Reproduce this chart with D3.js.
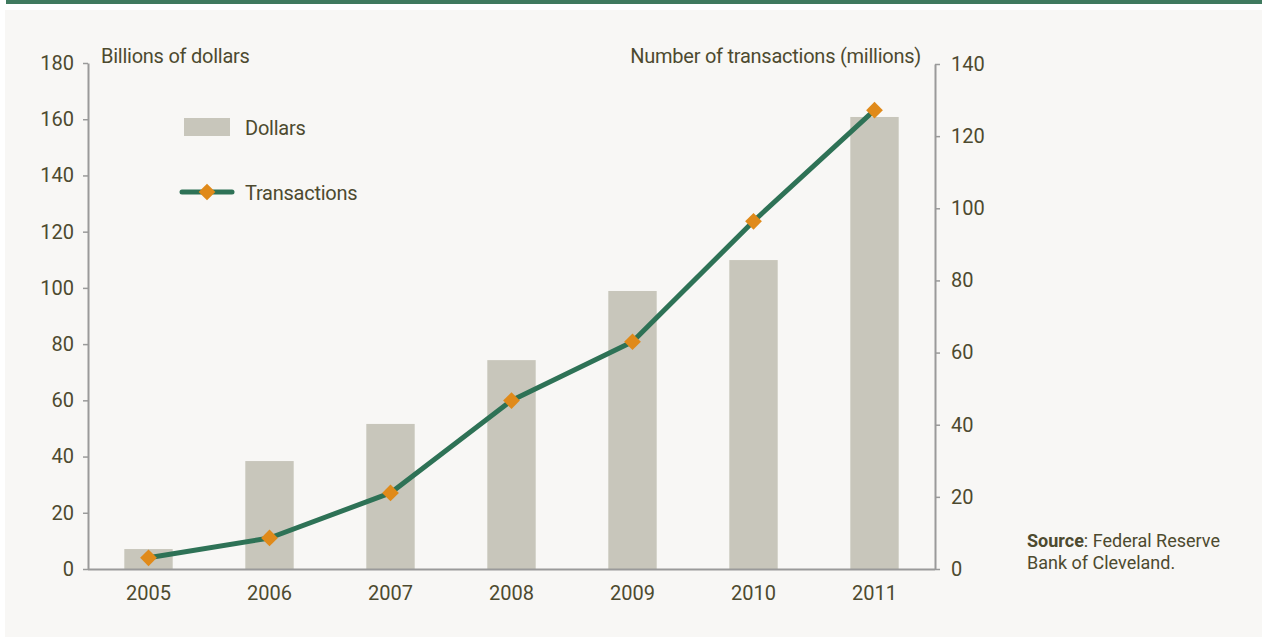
<!DOCTYPE html>
<html>
<head>
<meta charset="utf-8">
<script src="https://cdn.jsdelivr.net/npm/d3@7"></script>
<style>
  body { margin: 0; background: #ffffff; }
  svg text { font-family: "Liberation Sans Narrow", "Roboto", "Liberation Sans", sans-serif; fill: #4d4a2f; }
  .label { letter-spacing: -0.25px; }
</style>
</head>
<body>
<div class="main"></div>
<script>
// chart data
const years = ["2005", "2006", "2007", "2008", "2009", "2010", "2011"];
const dollars = [7.1, 38.4, 51.6, 74.3, 98.9, 109.9, 160.8];          // billions
const transactions = [3.1, 8.6, 21.1, 46.7, 63.0, 96.4, 127.2];      // millions
const leftTicks = [0, 20, 40, 60, 80, 100, 120, 140, 160, 180];
const rightTicks = [0, 20, 40, 60, 80, 100, 120, 140];

let width = 1262;
let height = 637;

let svg = d3.select(".main").append("svg")
    .attr("width", width)
    .attr("height", height);

// top band + panel
svg.append("rect").attr("x", 6).attr("y", 0).attr("width", 1256).attr("height", 4).attr("fill", "#3f7a5f");
svg.append("rect").attr("x", 5).attr("y", 10).attr("width", 1257).attr("height", 627).attr("fill", "#f8f7f5");

let plotLeft = 88, plotRight = 935, plotTop = 63, plotBottom = 569;

let x = d3.scaleBand().domain(years).range([plotLeft, plotRight]).paddingInner(0.6).paddingOuter(0.3);
let yL = d3.scaleLinear().domain([0, 180]).range([plotBottom, plotTop]);
let yR = d3.scaleLinear().domain([0, 140]).range([plotBottom, plotTop + 1]);

// bars
svg.selectAll(".bar")
    .data(years)
    .enter().append("rect")
    .attr("class", "bar")
    .attr("x", d => x(d))
    .attr("width", x.bandwidth())
    .attr("y", (d, i) => yL(dollars[i]))
    .attr("height", (d, i) => plotBottom - yL(dollars[i]))
    .attr("fill", "#c8c6bb");

// axes
function styleAxis(g) {
    g.select(".domain").attr("stroke", "#9a9a9a").attr("stroke-width", 2);
    g.selectAll(".tick line").attr("stroke", "#9a9a9a").attr("stroke-width", 1.5);
    g.selectAll(".tick text").style("font-size", "20px").attr("fill", "#4d4a2f");
}

svg.append("g")
    .attr("transform", `translate(${plotLeft},0)`)
    .call(d3.axisLeft(yL).tickValues(leftTicks).tickSize(5).tickSizeOuter(0).tickPadding(9))
    .call(styleAxis);

svg.append("g")
    .attr("transform", `translate(${plotRight},0)`)
    .call(d3.axisRight(yR).tickValues(rightTicks).tickSize(5).tickSizeOuter(0).tickPadding(11))
    .call(styleAxis)
    .call(g => g.selectAll(".tick text").attr("text-anchor", "start"));

svg.append("g")
    .attr("transform", `translate(0,${plotBottom})`)
    .call(d3.axisBottom(x).tickSize(0).tickPadding(17))
    .call(styleAxis)
    .call(g => g.select(".domain").attr("d", `M${plotLeft},0.5H${plotRight}`));

// line
let cx = d => x(d) + x.bandwidth() / 2;
let line = d3.line()
    .x((d, i) => cx(years[i]))
    .y(d => yR(d));

svg.append("path")
    .datum(transactions)
    .attr("d", line)
    .attr("fill", "none")
    .attr("stroke", "#2e7256")
    .attr("stroke-width", 5)
    .attr("stroke-linejoin", "round");

let diamond = d3.symbol().type(d3.symbolSquare).size(140);
svg.selectAll(".marker")
    .data(transactions)
    .enter().append("path")
    .attr("class", "marker")
    .attr("d", diamond)
    .attr("transform", (d, i) => `translate(${cx(years[i])},${yR(d)}) rotate(45)`)
    .attr("fill", "#e08a1a");

// axis titles
svg.append("text").attr("class", "label").attr("x", 101).attr("y", 63).style("font-size", "20px").text("Billions of dollars");
svg.append("text").attr("class", "label").attr("x", 921).attr("y", 63).attr("text-anchor", "end").style("font-size", "20px").text("Number of transactions (millions)");

// legend
svg.append("rect").attr("x", 184).attr("y", 118).attr("width", 46).attr("height", 18).attr("fill", "#c8c6bb");
svg.append("text").attr("class", "label").attr("x", 245).attr("y", 135).style("font-size", "20px").text("Dollars");
svg.append("line").attr("x1", 182).attr("x2", 232).attr("y1", 192).attr("y2", 192)
    .attr("stroke", "#2e7256").attr("stroke-width", 5).attr("stroke-linecap", "round");
svg.append("path").attr("d", diamond).attr("transform", "translate(207,192) rotate(45)").attr("fill", "#e08a1a");
svg.append("text").attr("class", "label").attr("x", 245).attr("y", 200).style("font-size", "20px").text("Transactions");

// source
let src = svg.append("text").attr("x", 1027).attr("y", 547).style("font-size", "18px");
src.append("tspan").attr("font-weight", "bold").text("Source");
src.append("tspan").text(": Federal Reserve");
svg.append("text").attr("x", 1027).attr("y", 569).style("font-size", "18px").text("Bank of Cleveland.");
</script>
</body>
</html>
